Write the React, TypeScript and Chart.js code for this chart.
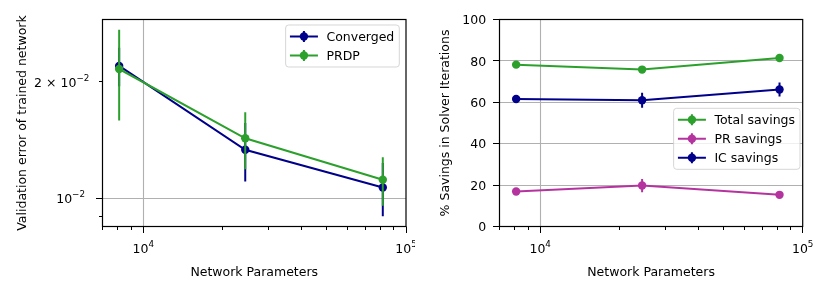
import React, { useEffect, useRef } from "react";
import { Chart, registerables } from "chart.js";

Chart.register(...registerables);

const FONT_FAMILY = '"DejaVu Sans", "Liberation Sans", sans-serif';
const FONT_SIZE = 12.5;
const SUP_SIZE = 8.75;
const SUP_RAISE = 5.6;

// ---------------- data ----------------
const networkParameters = [8100, 24450, 81600];

const convergedError = [0.022, 0.01336, 0.01067];
const convergedErrorStd = [0.0025, 0.0023, 0.00168];
const prdpError = [0.0216, 0.0143, 0.01117];
const prdpErrorStd = [0.0057, 0.0024, 0.0016];

const totalSavings = [78.2, 75.8, 81.4];
const totalSavingsStd = [0.8, 0.9, 0.8];
const prSavings = [16.9, 19.8, 15.3];
const prSavingsStd = [0.8, 3.2, 0.7];
const icSavings = [61.6, 61.0, 66.2];
const icSavingsStd = [1.0, 3.6, 3.4];

const leftSeriesNames = ["Converged", "PRDP"];
const rightSeriesNames = ["Total savings", "PR savings", "IC savings"];

const xRange = [7000, 100000];
const errorRange = [0.00846, 0.029];
const savingsRange = [0, 100];

const xMajorTicks = [10000, 100000];
const xMajorTickLabels = ["10^4", "10^5"];
const xMinorTicks = [7000, 8000, 9000, 20000, 30000, 40000, 50000, 60000, 70000, 80000, 90000];

const errorMajorTicks = [0.01];
const errorMajorTickLabels = ["10^−2"];
const errorMinorTicks = [0.009, 0.02];
const errorMinorTickLabels = ["", "2 × 10^−2"];

const savingsTicks = [0, 20, 40, 60, 80, 100];
const savingsTickLabels = ["0", "20", "40", "60", "80", "100"];

const xTitle = "Network Parameters";
const leftYTitle = "Validation error of trained network";
const rightYTitle = "% Savings in Solver Iterations";

const NAVY = "#00008b";
const GREEN = "#2ca02c";
const MAGENTA = "#b5339e";

// ---------------- helpers ----------------
type AxisCfg = {
  major: number[];
  majorLabels: string[];
  minor: number[];
  minorLabels: string[];
  majorGap: number;
  minorGap: number;
};

type PanelCfg = {
  x: AxisCfg;
  y: AxisCfg;
  xTitle: string;
  yTitle: string;
  yTitleOffset: number;
  legend: { items: { label: string; color: string }[]; rightOffset: number; top: number };
};

const MARKER_R = 4.2;
const LINE_W = 2;

const font = (size: number) => `${size}px ${FONT_FAMILY}`;
const snap = (p: number) => Math.round(p - 0.5) + 0.5;

function drawMathLabel(ctx: CanvasRenderingContext2D, s: string, x: number, baseline: number, align: "center" | "right") {
  if (!s) return;
  const i = s.indexOf("^");
  const segs = i < 0 ? [{ t: s, sup: false }] : [{ t: s.slice(0, i), sup: false }, { t: s.slice(i + 1), sup: true }];
  const widths = segs.map((g) => {
    ctx.font = font(g.sup ? SUP_SIZE : FONT_SIZE);
    return ctx.measureText(g.t).width;
  });
  const total = widths.reduce((a, b) => a + b, 0);
  let cx = align === "center" ? x - total / 2 : x - total;
  ctx.textAlign = "left";
  ctx.textBaseline = "alphabetic";
  segs.forEach((g, k) => {
    ctx.font = font(g.sup ? SUP_SIZE : FONT_SIZE);
    ctx.fillText(g.t, cx, g.sup ? baseline - SUP_RAISE : baseline);
    cx += widths[k];
  });
}

function makePanelPlugin(cfg: PanelCfg) {
  return {
    id: "mplPanel",
    beforeDatasetsDraw(chart: any) {
      const { ctx, chartArea: a, scales } = chart;
      ctx.save();
      ctx.strokeStyle = "#b0b0b0";
      ctx.lineWidth = 1.1;
      ctx.beginPath();
      for (const v of cfg.x.major) {
        const px = snap(scales.x.getPixelForValue(v));
        if (px > a.left + 1 && px < a.right - 1) {
          ctx.moveTo(px, a.top);
          ctx.lineTo(px, a.bottom);
        }
      }
      for (const v of cfg.y.major) {
        const py = snap(scales.y.getPixelForValue(v));
        if (py > a.top + 1 && py < a.bottom - 1) {
          ctx.moveTo(a.left, py);
          ctx.lineTo(a.right, py);
        }
      }
      ctx.stroke();
      ctx.restore();
    },
    beforeDatasetDraw(chart: any, args: any) {
      const ds = chart.data.datasets[args.index];
      const err: number[] | undefined = ds.errorBars;
      if (!err) return;
      const { ctx, chartArea: a, scales } = chart;
      ctx.save();
      ctx.beginPath();
      ctx.rect(a.left, a.top, a.right - a.left, a.bottom - a.top);
      ctx.clip();
      ctx.strokeStyle = ds.borderColor;
      ctx.lineWidth = ds.borderWidth;
      ctx.beginPath();
      ds.data.forEach((p: { x: number; y: number }, i: number) => {
        const px = scales.x.getPixelForValue(p.x);
        ctx.moveTo(px, scales.y.getPixelForValue(p.y - err[i]));
        ctx.lineTo(px, scales.y.getPixelForValue(p.y + err[i]));
      });
      ctx.stroke();
      ctx.restore();
    },
    afterDatasetsDraw(chart: any) {
      const { ctx, chartArea: a, scales } = chart;
      ctx.save();
      // frame
      ctx.strokeStyle = "#000";
      ctx.lineWidth = 1.2;
      ctx.strokeRect(a.left, a.top, a.right - a.left, a.bottom - a.top);

      // ticks
      ctx.lineWidth = 1;
      ctx.beginPath();
      const xTick = (v: number, len: number) => {
        const px = scales.x.getPixelForValue(v);
        if (px < a.left - 0.6 || px > a.right + 0.6) return;
        const sx = snap(px);
        ctx.moveTo(sx, a.bottom);
        ctx.lineTo(sx, a.bottom + len);
      };
      const yTick = (v: number, len: number) => {
        const py = scales.y.getPixelForValue(v);
        if (py < a.top - 0.6 || py > a.bottom + 0.6) return;
        const sy = snap(py);
        ctx.moveTo(a.left, sy);
        ctx.lineTo(a.left - len, sy);
      };
      cfg.x.major.forEach((v) => xTick(v, 6.5));
      cfg.x.minor.forEach((v) => xTick(v, 3.5));
      cfg.y.major.forEach((v) => yTick(v, 6.5));
      cfg.y.minor.forEach((v) => yTick(v, 3.5));
      ctx.stroke();

      // tick labels
      ctx.fillStyle = "#000";
      cfg.x.major.forEach((v, i) => {
        const px = scales.x.getPixelForValue(v);
        drawMathLabel(ctx, cfg.x.majorLabels[i], px, a.bottom + 26.5, "center");
      });
      cfg.y.major.forEach((v, i) => {
        const py = scales.y.getPixelForValue(v);
        drawMathLabel(ctx, cfg.y.majorLabels[i], a.left - cfg.y.majorGap, py + 4.6, "right");
      });
      cfg.y.minor.forEach((v, i) => {
        const py = scales.y.getPixelForValue(v);
        drawMathLabel(ctx, cfg.y.minorLabels[i], a.left - cfg.y.minorGap, py + 4.6, "right");
      });

      // axis titles
      ctx.font = font(FONT_SIZE);
      ctx.textAlign = "center";
      ctx.textBaseline = "alphabetic";
      ctx.fillText(cfg.xTitle, (a.left + a.right) / 2, a.bottom + 49.3);
      ctx.save();
      ctx.translate(a.left + cfg.yTitleOffset, (a.top + a.bottom) / 2);
      ctx.rotate(-Math.PI / 2);
      ctx.fillText(cfg.yTitle, 0, 0);
      ctx.restore();

      // legend
      const lg = cfg.legend;
      ctx.font = font(FONT_SIZE);
      const tw = Math.max(...lg.items.map((it) => ctx.measureText(it.label).width));
      const padL = 4.3, handle = 28, textPad = 8.5, padR = 5, rowH = 19, edge = 11.5;
      const w = padL + handle + textPad + tw + padR;
      const h = 2 * edge + (lg.items.length - 1) * rowH;
      const bx = a.right - lg.rightOffset - w;
      const by = lg.top;
      ctx.beginPath();
      (ctx as any).roundRect(bx, by, w, h, 3);
      ctx.fillStyle = "rgba(255,255,255,0.8)";
      ctx.fill();
      ctx.strokeStyle = "rgba(204,204,204,0.8)";
      ctx.lineWidth = 1;
      ctx.stroke();
      lg.items.forEach((it, k) => {
        const cy = by + edge + k * rowH;
        const hx0 = bx + padL;
        const hx1 = hx0 + handle;
        const mx = (hx0 + hx1) / 2;
        ctx.strokeStyle = it.color;
        ctx.fillStyle = it.color;
        ctx.lineWidth = LINE_W;
        ctx.beginPath();
        ctx.moveTo(hx0, cy);
        ctx.lineTo(hx1, cy);
        ctx.moveTo(mx, cy - 5.5);
        ctx.lineTo(mx, cy + 5.5);
        ctx.stroke();
        ctx.beginPath();
        ctx.arc(mx, cy, MARKER_R, 0, Math.PI * 2);
        ctx.fill();
        ctx.fillStyle = "#000";
        ctx.textAlign = "left";
        ctx.textBaseline = "alphabetic";
        ctx.fillText(it.label, hx1 + textPad, cy + 4.5);
      });
      ctx.restore();
    },
  };
}

function series(label: string, ys: number[], errs: number[], color: string, order: number) {
  return {
    label,
    data: networkParameters.map((x, i) => ({ x, y: ys[i] })),
    errorBars: errs,
    borderColor: color,
    backgroundColor: color,
    pointBackgroundColor: color,
    pointBorderColor: color,
    pointBorderWidth: 0,
    pointRadius: MARKER_R,
    pointHoverRadius: MARKER_R,
    borderWidth: LINE_W,
    tension: 0,
    fill: false,
    order,
  };
}

function baseOptions(padding: any, yType: string, yr: number[]) {
  return {
    responsive: false,
    animation: false as const,
    devicePixelRatio: 1,
    events: [] as any[],
    layout: { padding },
    plugins: { legend: { display: false }, tooltip: { enabled: false } },
    scales: {
      x: { type: "logarithmic", min: xRange[0], max: xRange[1], display: false, bounds: "data" },
      y: { type: yType, min: yr[0], max: yr[1], display: false, bounds: "data" },
    },
  };
}

export default function App() {
  const leftRef = useRef<HTMLCanvasElement>(null);
  const rightRef = useRef<HTMLCanvasElement>(null);

  useEffect(() => {
    const leftCfg: PanelCfg = {
      x: { major: xMajorTicks, majorLabels: xMajorTickLabels, minor: xMinorTicks, minorLabels: [], majorGap: 0, minorGap: 0 },
      y: {
        major: errorMajorTicks,
        majorLabels: errorMajorTickLabels,
        minor: errorMinorTicks,
        minorLabels: errorMinorTickLabels,
        majorGap: 17.5,
        minorGap: 13.2,
      },
      xTitle,
      yTitle: leftYTitle,
      yTitleOffset: -77,
      legend: {
        items: [
          { label: leftSeriesNames[0], color: NAVY },
          { label: leftSeriesNames[1], color: GREEN },
        ],
        rightOffset: 6.7,
        top: 25,
      },
    };
    const rightCfg: PanelCfg = {
      x: { major: xMajorTicks, majorLabels: xMajorTickLabels, minor: xMinorTicks, minorLabels: [], majorGap: 0, minorGap: 0 },
      y: { major: savingsTicks, majorLabels: savingsTickLabels, minor: [], minorLabels: [], majorGap: 13.3, minorGap: 0 },
      xTitle,
      yTitle: rightYTitle,
      yTitleOffset: -50.3,
      legend: {
        items: [
          { label: rightSeriesNames[0], color: GREEN },
          { label: rightSeriesNames[1], color: MAGENTA },
          { label: rightSeriesNames[2], color: NAVY },
        ],
        rightOffset: 2.7,
        top: 108.3,
      },
    };

    const c1 = new Chart(leftRef.current as HTMLCanvasElement, {
      type: "line",
      data: {
        datasets: [
          series(leftSeriesNames[0], convergedError, convergedErrorStd, NAVY, 0),
          series(leftSeriesNames[1], prdpError, prdpErrorStd, GREEN, -1),
        ] as any,
      },
      options: baseOptions({ left: 102.5, right: 9, top: 19.5, bottom: 67.5 }, "logarithmic", errorRange) as any,
      plugins: [makePanelPlugin(leftCfg) as any],
    });

    const c2 = new Chart(rightRef.current as HTMLCanvasElement, {
      type: "line",
      data: {
        datasets: [
          series(rightSeriesNames[0], totalSavings, totalSavingsStd, GREEN, 0),
          series(rightSeriesNames[1], prSavings, prSavingsStd, MAGENTA, -1),
          series(rightSeriesNames[2], icSavings, icSavingsStd, NAVY, -2),
        ] as any,
      },
      options: baseOptions({ left: 84.5, right: 28.3, top: 19.5, bottom: 67.5 }, "linear", savingsRange) as any,
      plugins: [makePanelPlugin(rightCfg) as any],
    });

    return () => {
      c1.destroy();
      c2.destroy();
    };
  }, []);

  return (
    <div style={{ position: "absolute", left: 0, top: 0, width: 831, height: 294, background: "#fff", overflow: "hidden" }}>
      <canvas ref={leftRef} width={415} height={294} style={{ position: "absolute", left: 0, top: 0, width: 415, height: 294 }} />
      <canvas ref={rightRef} width={416} height={294} style={{ position: "absolute", left: 415, top: 0, width: 416, height: 294 }} />
    </div>
  );
}
